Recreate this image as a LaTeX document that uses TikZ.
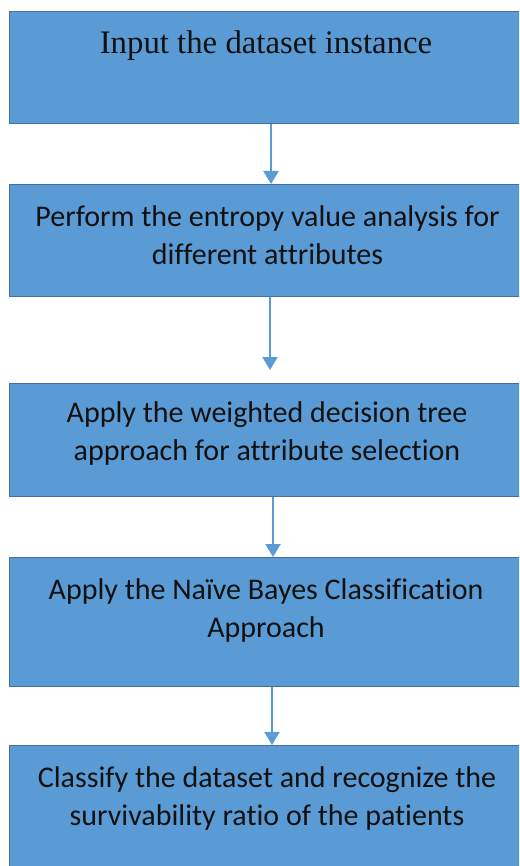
\documentclass[tikz,border=0pt]{standalone}
\usepackage{fontspec}
\setmainfont{Carlito}[Ligatures=NoCommon]
\newfontfamily\serifbox{Liberation Serif}
\usetikzlibrary{arrows.meta}
\definecolor{boxfill}{HTML}{5B9BD5}
\definecolor{boxline}{HTML}{41719C}
\definecolor{txtcol}{HTML}{111111}
\begin{document}
\begin{tikzpicture}[x=1pt,y=-1pt,
  stepbox/.style={draw=boxline, fill=boxfill, line width=1.3pt, minimum width=516pt, anchor=north west, inner sep=0pt},
  txt/.style={align=center, font=\fontsize{30}{38}\selectfont, text=txtcol, inner sep=0pt, anchor=base},
  arr/.style={draw=boxfill, line width=2pt, -{Triangle[width=15pt,length=13pt]}}]
\clip (0,0) rectangle (519,866);
\fill[white] (0,0) rectangle (519,866);
\node[stepbox, minimum height=112pt] (b1) at (9,11) {};
\node[stepbox, minimum height=112pt] (b2) at (9,184) {};
\node[stepbox, minimum height=113pt] (b3) at (9,383) {};
\node[stepbox, minimum height=129pt] (b4) at (9,557) {};
\node[stepbox, minimum height=160pt] (b5) at (9,745) {};
\node[txt, font=\serifbox\fontsize{32.8}{38}\selectfont] (t1) at (266,54) {Input the dataset instance};
\node[txt] (t2) at (267.5,265) {Perform the entropy value analysis for\\different attributes};
\node[txt] (t3) at (267,460) {Apply the weighted decision tree\\approach for attribute selection};
\node[txt] (t4) at (266,637) {Apply the Naïve Bayes Classification\\Approach};
\node[txt] (t5) at (267,825) {Classify the dataset and recognize the\\survivability ratio of the patients};
\coordinate (x1) at (271,0);
\coordinate (x2) at (270,0);
\coordinate (x3) at (273,0);
\coordinate (x4) at (272,0);
\draw[arr] (b1.south -| x1) -- (b2.north -| x1);
\draw[arr, shorten >=13pt] (b2.south -| x2) -- (b3.north -| x2);
\draw[arr] (b3.south -| x3) -- (b4.north -| x3);
\draw[arr] (b4.south -| x4) -- (b5.north -| x4);
\end{tikzpicture}
\end{document}
